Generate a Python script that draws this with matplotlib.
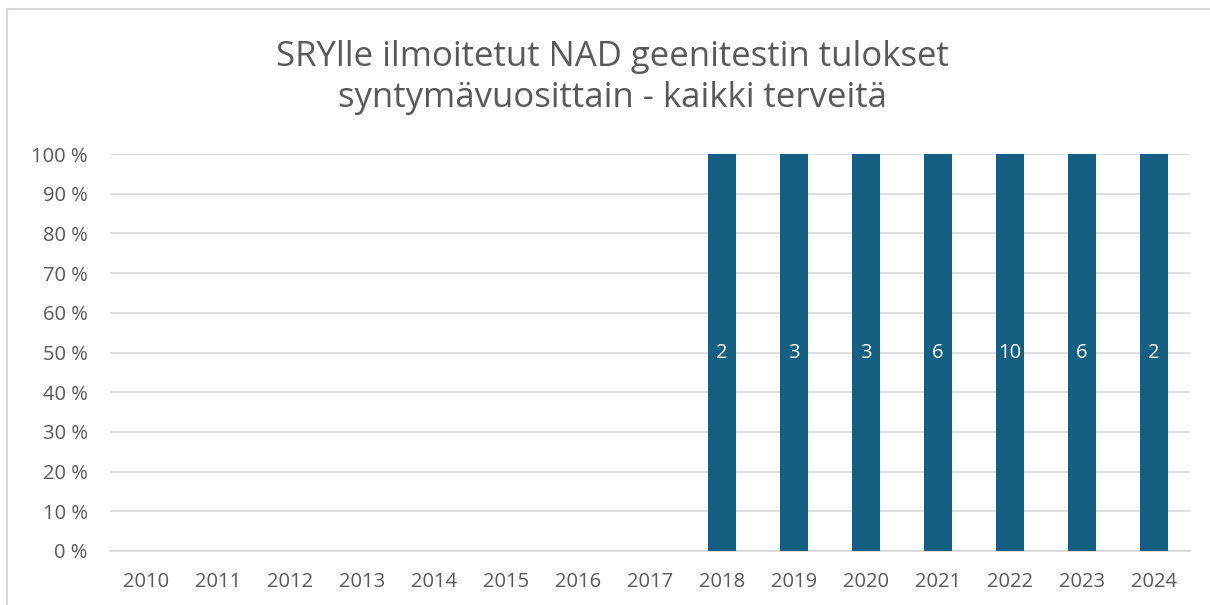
import matplotlib.pyplot as plt
from matplotlib.patches import Rectangle

plt.rcParams['font.family'] = ['Open Sans', 'DejaVu Sans']

years = ['2010', '2011', '2012', '2013', '2014', '2015', '2016', '2017',
         '2018', '2019', '2020', '2021', '2022', '2023', '2024']
terveet = [0, 0, 0, 0, 0, 0, 0, 0, 2, 3, 3, 6, 10, 6, 2]
kantajat = [0, 0, 0, 0, 0, 0, 0, 0, 0, 0, 0, 0, 0, 0, 0]

bar_color = '#156082'
text_color = '#595959'
grid_color = '#d9d9d9'

fig = plt.figure(figsize=(12.1, 6.05), dpi=100)
# chart border (Excel style)
fig.patches.append(Rectangle((7 / 1210, -0.1), 1.2, 1 - 9 / 605 + 0.1,
                             transform=fig.transFigure, fill=False,
                             edgecolor=grid_color, linewidth=1.5))

ax = fig.add_axes([110 / 1210, 54 / 605, 1080 / 1210, 397 / 605])

x = list(range(len(years)))
osuus = []
for t, k in zip(terveet, kantajat):
    total = t + k
    osuus.append(t / total * 100 if total else 0)

bars = ax.bar(x, osuus, width=0.4, color=bar_color, zorder=3)
for xi, p, t in zip(x, osuus, terveet):
    if t:
        ax.text(xi, p / 2, str(t), ha='center', va='center',
                color='white', fontsize=14.5, zorder=4)

ax.set_xlim(-0.5, len(years) - 0.5)
ax.set_ylim(0, 100)
ax.set_yticks(range(0, 101, 10))
ax.set_yticklabels([f'{v} %' for v in range(0, 101, 10)])
ax.set_xticks(x)
ax.set_xticklabels(years)
ax.tick_params(length=0, labelsize=14.5, colors=text_color)
ax.tick_params(axis='x', pad=15)
ax.tick_params(axis='y', pad=16)
ax.grid(axis='y', color=grid_color, linewidth=1.2, zorder=0)
for s in ['top', 'right', 'left']:
    ax.spines[s].set_visible(False)
ax.spines['bottom'].set_color(grid_color)
ax.spines['bottom'].set_linewidth(1.2)

fig.text(0.506, 0.872, 'SRYlle ilmoitetut NAD geenitestin tulokset\nsyntymävuosittain - kaikki terveitä',
         ha='center', va='center', fontsize=25, color=text_color,
         linespacing=1.28)

fig.savefig('out.png', dpi=100)
